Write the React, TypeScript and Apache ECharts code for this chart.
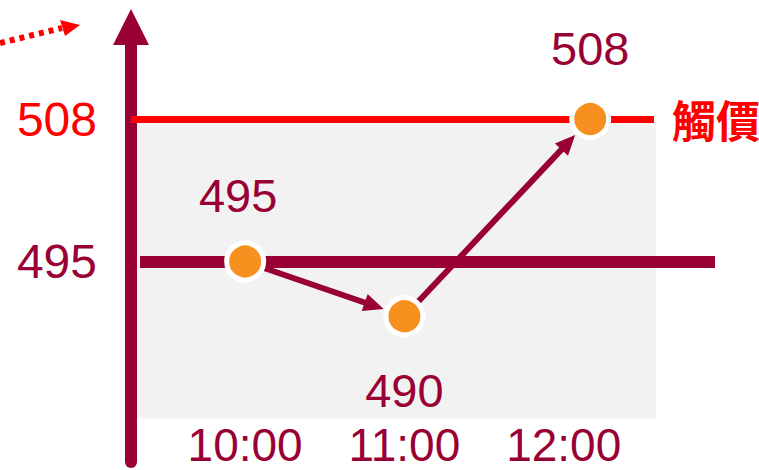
import React, { useEffect, useRef } from "react";
import * as echarts from "echarts";

// ---- data ----
const pointTimes = ["10:00", "11:00", "12:10"];
const pointPrices = [495, 490, 508];
const pointLabelPos = ["top", "bottom", "top"];
const xTickLabels = ["10:00", "11:00", "12:00"];
const yTickValues = [495, 508];
const basePrice = 495;
const triggerPrice = 508;
const triggerLabel = "觸價";

const DARK = "#990033";
const RED = "#FF0000";
const ORANGE = "#F7901E";
const GRAY = "#F2F2F2";
const FONT = "'Liberation Sans', Arial, sans-serif";

const LABEL_DIST = [21, 30, 26];
const LABEL_OFFSET = [[-7, 0], [0, 0], [0, 0]];

const toMin = (t: string) => {
  const [h, m] = t.split(":").map(Number);
  return h * 60 + m;
};
const fmt = (v: number) => {
  const h = Math.floor(v / 60);
  const m = Math.round(v - h * 60);
  return `${h}:${m < 10 ? "0" + m : m}`;
};

const X_MIN = 557;
const X_MAX = 777;
const Y_MIN = 476.7;
const Y_MAX = 516.4;

export default function App() {
  const ref = useRef<HTMLDivElement>(null);
  useEffect(() => {
    if (!ref.current) return;
    const chart = echarts.init(ref.current, null, { renderer: "svg" });
    const xs = pointTimes.map(toMin);
    const pts = xs.map((x, i) => [x, pointPrices[i]]);
    const segs = [] as number[][];
    for (let i = 0; i < pts.length - 1; i++) {
      segs.push([pts[i][0], pts[i][1], pts[i + 1][0], pts[i + 1][1]]);
    }
    chart.setOption({
      animation: false,
      backgroundColor: "#ffffff",
      grid: { left: 131, right: 44, top: 27, bottom: 8 },
      xAxis: {
        type: "value",
        min: X_MIN,
        max: X_MAX,
        axisLine: { show: false },
        axisTick: { show: false },
        splitLine: { show: false },
        axisLabel: {
          customValues: xTickLabels.map(toMin),
          formatter: (v: number) => fmt(v),
          color: DARK,
          fontSize: 46,
          lineHeight: 34,
          fontFamily: FONT,
          verticalAlign: "middle",
          margin: -17,
        },
      },
      yAxis: {
        type: "value",
        min: Y_MIN,
        max: Y_MAX,
        axisLine: {
          show: true,
          lineStyle: { color: DARK, width: 12 },
          symbol: ["none", "triangle"],
          symbolSize: [36, 36],
        },
        axisTick: { show: false },
        splitLine: { show: false },
        axisLabel: {
          customValues: yTickValues,
          color: (v: any) => (Number(v) === triggerPrice ? RED : DARK),
          fontSize: 48,
          fontFamily: FONT,
          margin: 34,
        },
      },
      series: [
        {
          type: "line",
          data: [],
          silent: true,
          markArea: {
            silent: true,
            z: 0,
            itemStyle: { color: GRAY },
            data: [[{ coord: [559.3, triggerPrice] }, { coord: [754.8, 480.7] }]],
          },
          markLine: {
            silent: true,
            z: 1,
            symbol: "none",
            data: [
              [
                {
                  coord: [X_MIN, triggerPrice],
                  lineStyle: { color: RED, width: 7, type: "solid" },
                  label: {
                    show: true,
                    position: "end",
                    formatter: triggerLabel,
                    color: RED,
                    fontSize: 44,
                    fontWeight: "bold",
                    fontFamily: "'Noto Sans CJK TC', sans-serif",
                    distance: 18,
                  },
                },
                { coord: [754, triggerPrice] },
              ],
              [
                {
                  coord: [560.4, basePrice],
                  lineStyle: { color: DARK, width: 12, type: "solid" },
                  label: { show: false },
                },
                { coord: [X_MAX, basePrice] },
              ],
            ],
          },
        },
        {
          type: "custom",
          z: 3,
          silent: true,
          encode: { x: [0, 2], y: [1, 3] },
          data: segs,
          renderItem: (params: any, api: any) => {
            const p1 = api.coord([api.value(0), api.value(1)]);
            const p2 = api.coord([api.value(2), api.value(3)]);
            const dx = p2[0] - p1[0];
            const dy = p2[1] - p1[1];
            const len = Math.sqrt(dx * dx + dy * dy);
            const ux = dx / len;
            const uy = dy / len;
            const nx = -uy;
            const ny = ux;
            const g1 = 20;
            const g2 = 22;
            const L = 20;
            const W = 18;
            const s = [p1[0] + ux * g1, p1[1] + uy * g1];
            const e = [p2[0] - ux * g2, p2[1] - uy * g2];
            const b = [e[0] - ux * L, e[1] - uy * L];
            return {
              type: "group",
              children: [
                {
                  type: "line",
                  shape: { x1: s[0], y1: s[1], x2: b[0] + ux * 2, y2: b[1] + uy * 2 },
                  style: { stroke: DARK, lineWidth: 6 },
                },
                {
                  type: "polygon",
                  shape: {
                    points: [
                      e,
                      [b[0] + (nx * W) / 2, b[1] + (ny * W) / 2],
                      [b[0] - (nx * W) / 2, b[1] - (ny * W) / 2],
                    ],
                  },
                  style: { fill: DARK },
                },
              ],
            };
          },
        },
        {
          type: "scatter",
          z: 4,
          silent: true,
          symbol: "circle",
          symbolSize: 37,
          itemStyle: { color: ORANGE, borderColor: "#ffffff", borderWidth: 5, opacity: 1 },
          data: pts.map((p, i) => ({
            value: p,
            label: {
              show: true,
              position: pointLabelPos[i],
              distance: LABEL_DIST[i],
              offset: LABEL_OFFSET[i],
              formatter: String(pointPrices[i]),
              color: DARK,
              fontSize: 47,
              fontFamily: FONT,
            },
          })),
        },
      ],
      graphic: [
        {
          type: "polyline",
          shape: { points: [[0, 43], [62, 28]] },
          style: { stroke: RED, lineWidth: 6, lineDash: [5, 5] },
        },
        {
          type: "polygon",
          shape: { points: [[60, 20], [80, 25], [65, 36]] },
          style: { fill: RED },
        },
      ],
    });
    return () => chart.dispose();
  }, []);
  return (
    <div
      ref={ref}
      style={{ position: "fixed", left: 0, top: 0, width: 759, height: 470 }}
    />
  );
}
